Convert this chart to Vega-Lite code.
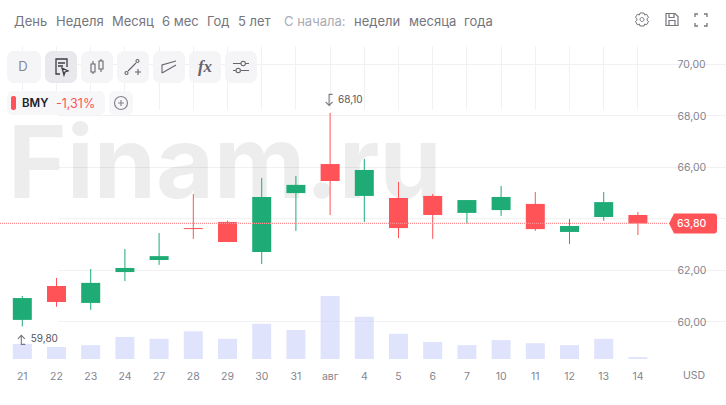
{"$schema":"https://vega.github.io/schema/vega-lite/v6.json","width":726,"height":405,"padding":0,"autosize":"none","background":"#ffffff","config":{"view":{"stroke":null},"text":{"font":"Inter"}},
"datasets":{"candles":[
{"d":"21","open":60.05,"close":60.90,"low":59.80,"high":60.98,"vol":24,"dir":"up"},
{"d":"22","open":61.37,"close":60.75,"low":60.56,"high":61.68,"vol":19,"dir":"down"},
{"d":"23","open":60.71,"close":61.49,"low":60.44,"high":62.03,"vol":22,"dir":"up"},
{"d":"24","open":61.91,"close":62.07,"low":61.56,"high":62.81,"vol":35,"dir":"up"},
{"d":"27","open":62.38,"close":62.53,"low":62.19,"high":63.43,"vol":32,"dir":"up"},
{"d":"28","open":63.62,"close":63.58,"low":63.20,"high":64.95,"vol":44,"dir":"down"},
{"d":"29","open":63.86,"close":63.08,"low":63.08,"high":63.91,"vol":32,"dir":"down"},
{"d":"30","open":62.69,"close":64.83,"low":62.22,"high":65.57,"vol":56,"dir":"up"},
{"d":"31","open":64.98,"close":65.30,"low":63.51,"high":65.65,"vol":46,"dir":"up"},
{"d":"авг","open":66.11,"close":65.45,"low":64.13,"high":68.10,"vol":100,"dir":"down"},
{"d":"4","open":64.87,"close":65.88,"low":63.86,"high":66.31,"vol":67,"dir":"up"},
{"d":"5","open":64.79,"close":63.62,"low":63.23,"high":65.41,"vol":40,"dir":"down"},
{"d":"6","open":64.87,"close":64.13,"low":63.20,"high":64.95,"vol":27,"dir":"down"},
{"d":"7","open":64.21,"close":64.71,"low":63.78,"high":64.71,"vol":22,"dir":"up"},
{"d":"10","open":64.32,"close":64.83,"low":64.09,"high":65.26,"vol":30,"dir":"up"},
{"d":"11","open":64.56,"close":63.58,"low":63.51,"high":65.02,"vol":25,"dir":"down"},
{"d":"12","open":63.47,"close":63.70,"low":63.00,"high":63.97,"vol":22,"dir":"up"},
{"d":"13","open":64.05,"close":64.63,"low":63.90,"high":65.02,"vol":32,"dir":"up"},
{"d":"14","open":64.13,"close":63.80,"low":63.35,"high":64.25,"vol":3,"dir":"down"}
],"hi":[{"d":"авг","price":68.10,"label":"68,10"}],"lo":[{"d":"21","price":59.80,"label":"59,80"}],"last":[{"price":63.80,"label":"63,80"}]},
"data":{"values":[{}]},
"encoding":{},
"resolve":{"scale":{"y":"independent"}},
"layer":[
{"mark":{"type":"text","text":"Finam.ru","x":8,"y":198,"align":"left","baseline":"alphabetic","font":"Inter","fontWeight":700,"fontSize":100,"fill":"#000000","opacity":0.065}},
{"data":{"name":"candles"},"mark":{"type":"bar","size":19,"fill":"#c5ccfa","opacity":0.55},
"encoding":{"x":{"field":"d","type":"ordinal","sort":null,"title":null,
"scale":{"type":"band","domain":["21","22","23","24","27","28","29","30","31","авг","4","5","6","7","10","11","12","13","14"],"range":[0,668],"paddingInner":0,"paddingOuter":0.266,"align":0.286},
"axis":{"orient":"bottom","offset":-46,"domain":false,"ticks":false,"labelAngle":0,"labelPadding":12,"labelFont":"Inter","labelFontSize":10.5,"labelColor":"#85858f","grid":true,"gridColor":"#f1f1f4","gridWidth":1,"title":null}},
"y":{"field":"vol","type":"quantitative","title":null,"scale":{"domain":[0,100],"range":[359,296],"nice":false},"axis":null}}},
{"layer":[
{"data":{"name":"candles"},"mark":{"type":"rule","strokeWidth":1},
"encoding":{"x":{"field":"d","type":"ordinal","sort":null},
"y":{"field":"low","type":"quantitative","title":null,"scale":{"domain":[58.53,70.855],"range":[359,42],"nice":false,"zero":false},
"axis":{"orient":"right","offset":-58,"values":[60,62,64,66,68,70],"domain":false,"ticks":false,"labelPadding":9,"labelOffset":1,"labelFont":"Inter","labelFontSize":10.5,"labelColor":"#85858f","grid":true,"gridColor":"#f1f1f4","gridWidth":1,"title":null,"labelExpr":"datum.value==64?'':replace(format(datum.value,'.2f'),'.',',')"}},
"y2":{"field":"high"},
"color":{"field":"dir","type":"nominal","legend":null,"scale":{"domain":["up","down"],"range":["#1fab76","#ff5357"]}}}},
{"data":{"name":"candles"},"mark":{"type":"bar","size":19},
"encoding":{"x":{"field":"d","type":"ordinal","sort":null},"y":{"field":"open","type":"quantitative"},"y2":{"field":"close"},
"color":{"field":"dir","type":"nominal","legend":null}}},
{"data":{"name":"last"},"mark":{"type":"rule","x":0,"x2":668,"strokeWidth":1.2,"strokeDash":[1,1],"opacity":1},"encoding":{"y":{"field":"price","type":"quantitative"},"stroke":{"value":"#ff8f92"}}},
{"data":{"name":"last"},"mark":{"type":"point","x":693,"size":4,"filled":true,"fill":"#ff5357","opacity":1,"stroke":null,"shape":"M-24,0L-19,-10H21Q24,-10 24,-7V7Q24,10 21,10H-19Z"},"encoding":{"y":{"field":"price","type":"quantitative"}}},
{"data":{"name":"last"},"mark":{"type":"text","x":677,"dy":0.5,"align":"left","fontSize":10.5,"fontWeight":500,"fill":"#ffffff"},"encoding":{"y":{"field":"price","type":"quantitative"},"text":{"field":"label"}}},
{"data":{"name":"hi"},"mark":{"type":"text","align":"left","dx":8,"dy":-13,"fontSize":10,"fill":"#55555c"},"encoding":{"x":{"field":"d","type":"ordinal","sort":null},"y":{"field":"price","type":"quantitative"},"text":{"field":"label"}}},
{"data":{"name":"lo"},"mark":{"type":"text","align":"left","dx":8.4,"dy":13,"fontSize":10,"fill":"#55555c"},"encoding":{"x":{"field":"d","type":"ordinal","sort":null},"y":{"field":"price","type":"quantitative"},"text":{"field":"label"}}},
{"data":{"name":"hi"},"mark":{"type":"point","size":4,"filled":false,"opacity":1,"stroke":"#777780","strokeWidth":1.1,"shape":"M2.5,-18.5H-1V-7.5M-4.5,-11L-1,-7.5L2.5,-11"},"encoding":{"x":{"field":"d","type":"ordinal","sort":null},"y":{"field":"price","type":"quantitative"}}},
{"data":{"name":"lo"},"mark":{"type":"point","size":4,"filled":false,"opacity":1,"stroke":"#777780","strokeWidth":1.1,"shape":"M3,18H-1V9M-4.5,12.5L-1,9L2.5,12.5"},"encoding":{"x":{"field":"d","type":"ordinal","sort":null},"y":{"field":"price","type":"quantitative"}}}
]},
{"mark":{"type":"rule","x":0,"x2":716,"y":42,"y2":42,"stroke":"#ececf0"},"encoding":{}},
{"mark":{"type":"rule","x":0,"x2":720,"y":359,"y2":359,"stroke":"#ececf0"},"encoding":{}},
{"mark":{"type":"rule","x":668.5,"x2":668.5,"y":42,"y2":390,"stroke":"#ececf0"},"encoding":{}},
{"mark":{"type":"rule","x":719.5,"x2":719.5,"y":0,"y2":405,"stroke":"#f1f1f4"},"encoding":{}},
{"mark":{"type":"rule","x":625,"x2":625,"y":10,"y2":32,"stroke":"#ececf0"},"encoding":{}},
{"mark":{"type":"text","text":"USD","x":694,"y":375.5,"align":"center","fontSize":10.5,"fill":"#85858f"}},
{"mark":{"type":"text","text":"День","x":14,"y":21.5,"align":"left","fontSize":13,"fill":"#75757e"}},
{"mark":{"type":"text","text":"Неделя","x":56,"y":21.5,"align":"left","fontSize":13,"fill":"#75757e"}},
{"mark":{"type":"text","text":"Месяц","x":112,"y":21.5,"align":"left","fontSize":13,"fill":"#75757e"}},
{"mark":{"type":"text","text":"6 мес","x":162,"y":21.5,"align":"left","fontSize":13,"fill":"#75757e"}},
{"mark":{"type":"text","text":"Год","x":207,"y":21.5,"align":"left","fontSize":13,"fill":"#75757e"}},
{"mark":{"type":"text","text":"5 лет","x":238,"y":21.5,"align":"left","fontSize":13,"fill":"#75757e"}},
{"mark":{"type":"text","text":"С начала:","x":284,"y":21.5,"align":"left","fontSize":13,"fill":"#ababb3"}},
{"mark":{"type":"text","text":"недели","x":354,"y":21.5,"align":"left","fontSize":13,"fill":"#75757e"}},
{"mark":{"type":"text","text":"месяца","x":409,"y":21.5,"align":"left","fontSize":13,"fill":"#75757e"}},
{"mark":{"type":"text","text":"года","x":464,"y":21.5,"align":"left","fontSize":13,"fill":"#75757e"}},
{"mark":{"type":"rect","x":7,"x2":41,"y":51,"y2":83,"cornerRadius":7,"fill":"#f5f5f7"},"encoding":{}},
{"mark":{"type":"rect","x":45,"x2":77,"y":51,"y2":83,"cornerRadius":7,"fill":"#e9e9ed"},"encoding":{}},
{"mark":{"type":"rect","x":81,"x2":113,"y":51,"y2":83,"cornerRadius":7,"fill":"#f5f5f7"},"encoding":{}},
{"mark":{"type":"rect","x":117,"x2":149,"y":51,"y2":83,"cornerRadius":7,"fill":"#f5f5f7"},"encoding":{}},
{"mark":{"type":"rect","x":153,"x2":185,"y":51,"y2":83,"cornerRadius":7,"fill":"#f5f5f7"},"encoding":{}},
{"mark":{"type":"rect","x":189,"x2":221,"y":51,"y2":83,"cornerRadius":7,"fill":"#f5f5f7"},"encoding":{}},
{"mark":{"type":"rect","x":225,"x2":257,"y":51,"y2":83,"cornerRadius":7,"fill":"#f5f5f7"},"encoding":{}},
{"mark":{"type":"rect","x":7,"x2":105,"y":91,"y2":115,"cornerRadius":6,"fill":"#f7f7f9"},"encoding":{}},
{"mark":{"type":"rect","x":109,"x2":133,"y":91,"y2":115,"cornerRadius":6,"fill":"#f7f7f9"},"encoding":{}},
{"mark":{"type":"rect","x":11,"x2":16,"y":96,"y2":110,"cornerRadius":2,"fill":"#ff5357"},"encoding":{}},
{"mark":{"type":"text","text":"D","x":23,"y":67,"align":"center","fontSize":13,"fill":"#85858f"}},
{"mark":{"type":"text","text":"BMY","x":22,"y":103.5,"align":"left","fontSize":11.5,"fontWeight":600,"fill":"#20222e"}},
{"mark":{"type":"text","text":"-1,31%","x":56,"y":103.5,"align":"left","fontSize":12.5,"fill":"#ff5357"}},
{"mark":{"type":"text","text":"fx","x":205,"y":67,"align":"center","font":"Liberation Serif","fontStyle":"italic","fontWeight":700,"fontSize":17,"fill":"#65656d"}},
{"mark":{"type":"point","x":61,"y":67,"size":4,"filled":false,"opacity":1,"stroke":"#3c3c44","strokeWidth":1.3,"shape":"M-1,7H-5V-8H6V0M-3,-4H4M-3,-1H2M1,1L7,4L4,5L3,8Z"}},
{"mark":{"type":"point","x":97,"y":67,"size":4,"filled":false,"opacity":1,"stroke":"#65656d","strokeWidth":1.1,"shape":"M-6,-3H-2V5H-6ZM-4,-3V-6M-4,5V7M2,-6H6V2H2ZM4,-6V-8M4,2V5"}},
{"mark":{"type":"point","x":133,"y":67,"size":4,"filled":false,"opacity":1,"stroke":"#65656d","strokeWidth":1.1,"shape":"M-8,6a1.5,1.5 0 1 0 3,0a1.5,1.5 0 1 0 -3,0M-5,4L3,-4M3,-6a1.5,1.5 0 1 0 3,0a1.5,1.5 0 1 0 -3,0M2,5H8M5,2V8"}},
{"mark":{"type":"point","x":169,"y":67,"size":4,"filled":false,"opacity":1,"stroke":"#65656d","strokeWidth":1.1,"shape":"M-7,6V-2L7,-6M-7,6L7,-2"}},
{"mark":{"type":"point","x":241,"y":67,"size":4,"filled":false,"opacity":1,"stroke":"#65656d","strokeWidth":1.1,"shape":"M-8,-3.5H0M5,-3.5H8M-8,3.5H-5M0,3.5H8M0,-3.5a2.2,2.2 0 1 0 4.4,0a2.2,2.2 0 1 0 -4.4,0M-5,3.5a2.2,2.2 0 1 0 4.4,0a2.2,2.2 0 1 0 -4.4,0"}},
{"mark":{"type":"point","x":121,"y":103,"size":4,"filled":false,"opacity":1,"stroke":"#85858f","strokeWidth":1.2,"shape":"M-6.5,0a6.5,6.5 0 1 0 13,0a6.5,6.5 0 1 0 -13,0M-3,0H3M0,-3V3"}},
{"mark":{"type":"point","x":642,"y":19.5,"size":4,"filled":false,"opacity":1,"stroke":"#75757e","strokeWidth":1,"shape":"M-2,0a2,2 0 1 0 4,0a2,2 0 1 0 -4,0M-2,-6.5H2L2.6,-4.5L4.6,-5.3L6.5,-2L5,-.7V.7L6.5,2L4.6,5.3L2.6,4.5L2,6.5H-2L-2.6,4.5L-4.6,5.3L-6.5,2L-5,.7V-.7L-6.5,-2L-4.6,-5.3L-2.6,-4.5Z"}},
{"mark":{"type":"point","x":672,"y":19.5,"size":4,"filled":false,"opacity":1,"stroke":"#75757e","strokeWidth":1.2,"shape":"M-6,-6H3L6,-3V6H-6ZM-3,-6V-2H2V-6M-3,6V1H3V6"}},
{"mark":{"type":"point","x":701,"y":20,"size":4,"filled":false,"opacity":1,"stroke":"#75757e","strokeWidth":1.3,"shape":"M-6,-3V-6H-3M3,-6H6V-3M6,3V6H3M-3,6H-6V3"}}
]}
